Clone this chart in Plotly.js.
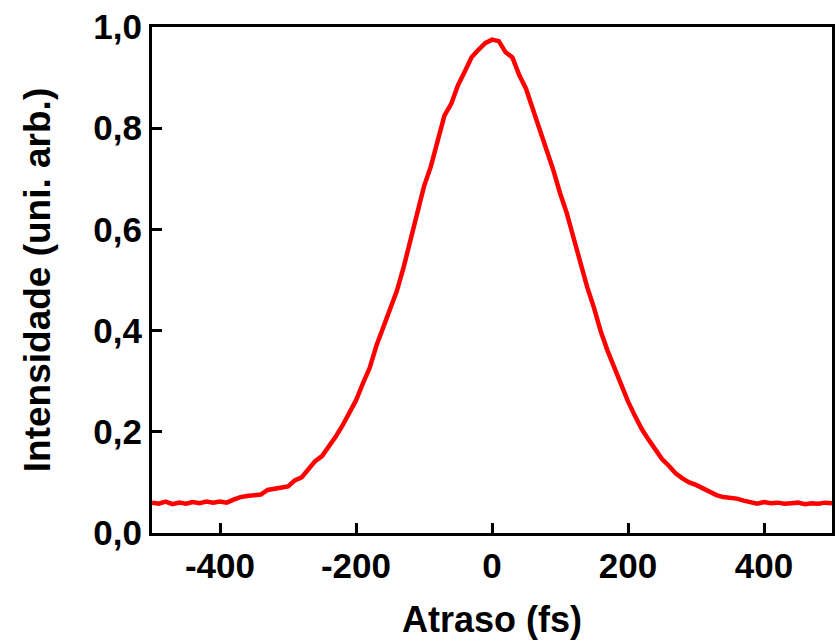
<!DOCTYPE html>
<html>
<head>
<meta charset="utf-8">
<script src="https://cdn.plot.ly/plotly-3.0.1.min.js"></script>
<style>html,body{margin:0;padding:0;background:#fff;}#chart{width:836px;height:643px;}</style>
</head>
<body>
<div id="chart"></div>
<script>
const delay = [-500,-490,-480,-470,-460,-450,-440,-430,-420,-410,-400,-390,-380,-370,-360,-350,-340,-330,-320,-310,-300,-290,-280,-270,-260,-250,-240,-230,-220,-210,-200,-190,-180,-170,-160,-150,-140,-130,-120,-110,-100,-90,-80,-70,-60,-50,-40,-30,-20,-10,0,10,20,30,40,50,60,70,80,90,100,110,120,130,140,150,160,170,180,190,200,210,220,230,240,250,260,270,280,290,300,310,320,330,340,350,360,370,380,390,400,410,420,430,440,450,460,470,480,490,500];
const intensity = [0.060,0.058,0.062,0.057,0.060,0.058,0.061,0.059,0.062,0.060,0.062,0.060,0.066,0.071,0.073,0.074,0.076,0.085,0.088,0.089,0.092,0.104,0.110,0.126,0.142,0.152,0.170,0.190,0.212,0.236,0.262,0.295,0.326,0.370,0.405,0.437,0.478,0.525,0.580,0.637,0.685,0.724,0.775,0.825,0.848,0.885,0.912,0.940,0.955,0.968,0.975,0.972,0.950,0.940,0.905,0.878,0.838,0.800,0.760,0.718,0.672,0.632,0.583,0.530,0.486,0.445,0.398,0.360,0.326,0.292,0.260,0.232,0.206,0.185,0.165,0.146,0.133,0.118,0.108,0.100,0.095,0.088,0.082,0.075,0.071,0.070,0.068,0.064,0.060,0.058,0.061,0.059,0.060,0.058,0.059,0.060,0.057,0.059,0.058,0.060,0.059];
const xTickVals = [-400,-200,0,200,400];
const xTickText = ['-400','-200','0','200','400'];
const yTickVals = [0,0.2,0.4,0.6,0.8,1.0];
const yTickText = ['0,0','0,2','0,4','0,6','0,8','1,0'];

const tickFont = {family:'Liberation Sans, Arial, sans-serif', size:35, color:'#000', weight:'bold'};
Plotly.newPlot('chart', [{
  x: delay, y: intensity, type:'scatter', mode:'lines',
  line:{color:'#ff0000', width:4.5}, hoverinfo:'skip'
}], {
  width:836, height:643,
  margin:{l:152, r:4, t:27, b:110},
  paper_bgcolor:'#fff', plot_bgcolor:'#fff',
  showlegend:false,
  xaxis:{range:[-500,500], tickmode:'array', tickvals:xTickVals, ticktext:xTickText,
    ticks:'inside', ticklen:10, tickwidth:3, tickcolor:'#000',
    showline:true, linewidth:3, linecolor:'#000', mirror:true, showgrid:false, zeroline:false,
    tickfont:tickFont,
    title:{text:'Atraso (fs)', standoff:23, font:{family:'Liberation Sans, Arial, sans-serif', size:36, color:'#000', weight:'bold'}}},
  yaxis:{range:[0,1], tickmode:'array', tickvals:yTickVals, ticktext:yTickText,
    ticks:'inside', ticklen:10, tickwidth:3, tickcolor:'#000',
    showline:true, linewidth:3, linecolor:'#000', mirror:true, showgrid:false, zeroline:false,
    tickfont:tickFont,
    title:{text:'Intensidade (uni. arb.)', standoff:32, font:{family:'Liberation Sans, Arial, sans-serif', size:37, color:'#000', weight:'bold'}}}
}, {staticPlot:true});
</script>
</body>
</html>
